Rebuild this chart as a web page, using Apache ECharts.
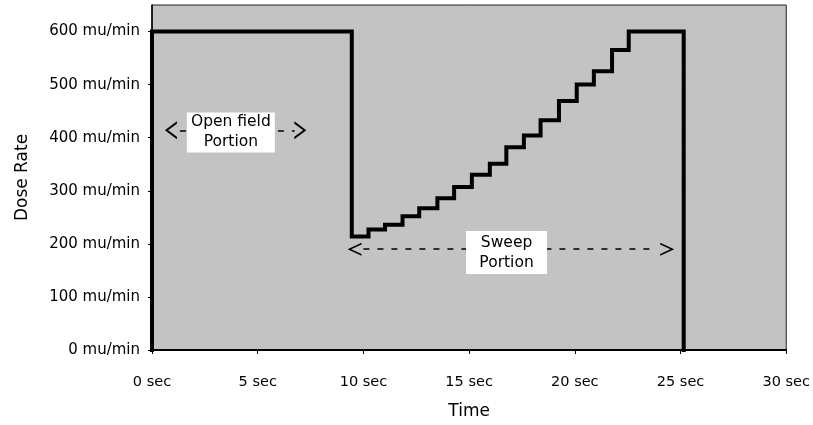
<!DOCTYPE html>
<html>
<head>
<meta charset="utf-8">
<title>Dose Rate vs Time</title>
<script src="https://cdn.jsdelivr.net/npm/echarts@6/dist/echarts.min.js"></script>
<style>
  html, body { margin: 0; padding: 0; background: #ffffff; }
  #chart { width: 813px; height: 425px; }
</style>
</head>
<body>
<div id="chart"></div>
<script>
// Stepped dose-rate profile: each point starts a new level that holds until the next time.
const stepTimes = [0, 0, 9.45, 10.24, 11.02, 11.85, 12.64, 13.5, 14.29, 15.13, 15.98, 16.76, 17.59, 18.38, 19.25, 20.09, 20.9, 21.76, 22.55, 25.15];
const doseRates = [0, 600, 214, 227, 236, 252, 267, 286, 307, 330, 351, 382, 404, 433, 469, 500, 525, 565, 600, 0];

// Axis ticks
const timeTicks = [0, 5, 10, 15, 20, 25, 30];
const rateTicks = [0, 100, 200, 300, 400, 500, 600];

// Annotation spans: [arrow start, arrow end] in seconds, dash span, level in mu/min, label centre
const openSpan = [0.61, 7.3];
const openDash = [1.32, 6.75];
const openLevel = 414;
const openLabelAt = [3.73, 410];
const sweepSpan = [9.25, 24.7];
const sweepDash = [10.0, 23.77];
const sweepLevel = 190;
const sweepLabelAt = [16.77, 183.5];

const FONT = 'DejaVu Sans';
const INK = '#000000';

const chevronLeft = 'path://M12,0 L0,9 L12,18 L12,15.6 L3.2,9 L12,2.4 Z';
const chevronRight = 'path://M0,0 L12,9 L0,18 L0,15.6 L8.8,9 L0,2.4 Z';

const profile = stepTimes.map((t, i) => [t, doseRates[i]]);

function arrowHeads(span, level, size) {
  return [
    { coord: [span[0], level], symbol: chevronLeft, symbolSize: size, symbolOffset: [size[0] / 2, 0] },
    { coord: [span[1], level], symbol: chevronRight, symbolSize: size, symbolOffset: [-size[0] / 2, 0] }
  ];
}

function noteBox(at, text, size) {
  return {
    coord: at,
    symbol: 'rect',
    symbolSize: size,
    itemStyle: { color: '#ffffff' },
    label: {
      show: true, position: 'inside', formatter: text,
      color: INK, fontFamily: FONT, fontSize: 15.5, lineHeight: 20
    }
  };
}

const chart = echarts.init(document.getElementById('chart'), null, { renderer: 'canvas' });

chart.setOption({
  animation: false,
  backgroundColor: '#ffffff',
  grid: {
    left: 152, right: 25, top: 5, bottom: 70,
    show: true, backgroundColor: '#c3c3c3', borderColor: '#222222', borderWidth: 1
  },
  xAxis: {
    type: 'value', min: 0, max: 30, interval: 5,
    name: 'Time', nameLocation: 'middle', nameGap: 53,
    nameTextStyle: { color: INK, fontFamily: FONT, fontSize: 17 },
    axisLine: { show: true, onZero: false, lineStyle: { color: INK, width: 2 } },
    axisTick: { show: true, length: 4, inside: false, customValues: timeTicks, lineStyle: { color: INK, width: 1 } },
    axisLabel: {
      color: INK, fontFamily: FONT, fontSize: 14.5, margin: 25,
      customValues: timeTicks,
      formatter: v => v + ' sec'
    },
    splitLine: { show: false }
  },
  yAxis: {
    type: 'value', min: 0, max: 650, interval: 100,
    name: 'Dose Rate', nameLocation: 'middle', nameGap: 121,
    nameTextStyle: { color: INK, fontFamily: FONT, fontSize: 17 },
    axisLine: { show: true, onZero: false, lineStyle: { color: INK, width: 1.5 } },
    axisTick: { show: true, length: 4, inside: false, customValues: rateTicks, lineStyle: { color: INK, width: 1 } },
    axisLabel: {
      color: INK, fontFamily: FONT, fontSize: 15, margin: 12,
      customValues: rateTicks,
      formatter: v => v + ' mu/min'
    },
    splitLine: { show: false }
  },
  series: [
    {
      name: 'Dose Rate',
      type: 'line',
      step: 'end',
      data: profile,
      showSymbol: false,
      symbol: 'none',
      lineStyle: { color: INK, width: 4, join: 'miter', cap: 'square' },
      z: 5
    },
    {
      name: 'Portion spans',
      type: 'line',
      data: [],
      z: 3,
      markLine: {
        silent: true,
        symbol: 'none',
        label: { show: false },
        lineStyle: { color: INK, width: 1.5, type: [6, 8] },
        data: [
          [{ coord: [openDash[0], openLevel] }, { coord: [openDash[1], openLevel] }],
          [{ coord: [sweepDash[0], sweepLevel] }, { coord: [sweepDash[1], sweepLevel] }]
        ]
      },
      markPoint: {
        silent: true,
        label: { show: false },
        itemStyle: { color: INK },
        data: arrowHeads(openSpan, openLevel, [12, 18]).concat(arrowHeads(sweepSpan, sweepLevel, [14, 13]))
      }
    },
    {
      name: 'Portion labels',
      type: 'line',
      data: [],
      z: 4,
      markPoint: {
        silent: true,
        data: [
          noteBox(openLabelAt, 'Open field\nPortion', [88, 40]),
          noteBox(sweepLabelAt, 'Sweep\nPortion', [81, 43])
        ]
      }
    }
  ]
});
</script>
</body>
</html>
